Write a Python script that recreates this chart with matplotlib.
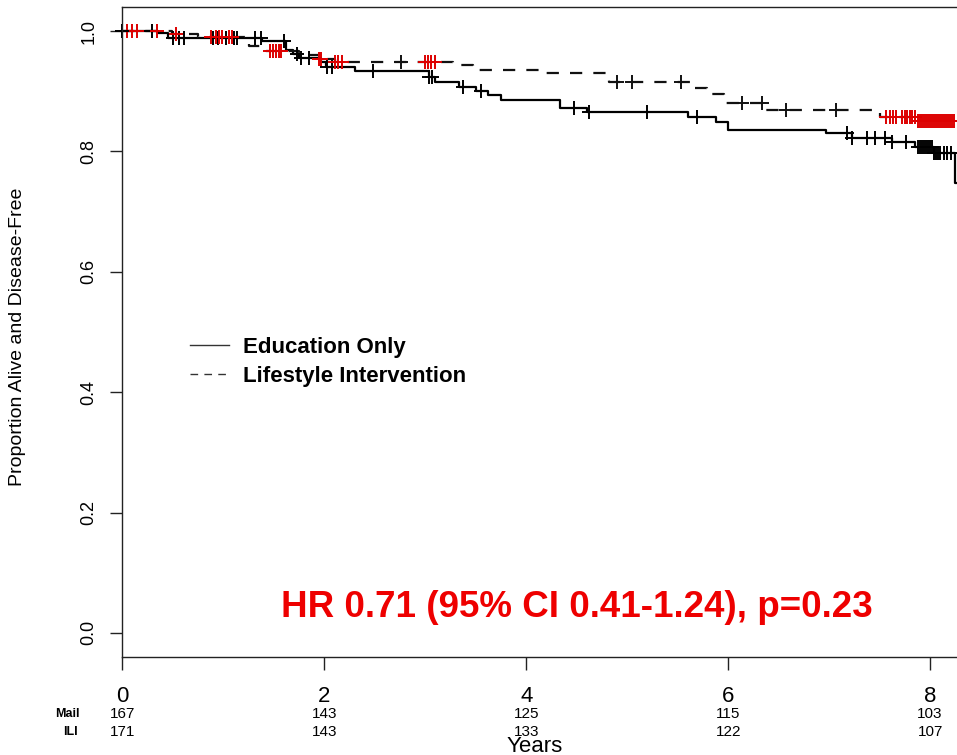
import numpy as np
import matplotlib.pyplot as plt
from matplotlib.lines import Line2D

plt.rcParams['font.family'] = ['Liberation Sans', 'DejaVu Sans']

## Kaplan-Meier step values (time in years, proportion after the step)
mail_times = [0.0, 0.35, 0.45, 1.38, 1.62, 1.69, 1.75, 1.97, 2.02, 2.30, 3.04, 3.10, 3.33, 3.50,
              3.62, 3.75, 4.33, 4.60, 5.60, 5.88, 6.00, 6.97, 7.23, 7.62, 7.85, 8.04, 8.25]
mail_surv = [1.0, 0.996, 0.989, 0.984, 0.968, 0.962, 0.956, 0.948, 0.941, 0.933, 0.924, 0.916, 0.907, 0.900,
             0.893, 0.885, 0.873, 0.866, 0.857, 0.849, 0.835, 0.830, 0.823, 0.816, 0.807, 0.798, 0.748]

ili_times = [0.0, 0.49, 0.75, 1.25, 1.42, 1.75, 1.95, 2.10, 3.27, 3.47, 4.16, 4.82, 5.65, 5.79,
             5.96, 6.36, 7.50, 7.86]
ili_surv = [1.0, 0.995, 0.990, 0.975, 0.967, 0.960, 0.953, 0.948, 0.943, 0.936, 0.931, 0.916, 0.905, 0.895,
            0.881, 0.869, 0.858, 0.850]

## censoring times
mail_cens = [0.0, 0.29, 0.50, 0.56, 0.61, 0.90, 0.95, 1.03, 1.10, 1.13, 1.31, 1.37, 1.60, 1.73, 1.77,
             1.85, 2.03, 2.08, 2.48, 3.04, 3.07, 3.37, 3.55, 4.47, 4.62, 5.20, 5.69, 7.18, 7.23, 7.37,
             7.45, 7.55, 7.62, 7.76, 7.88, 7.90, 7.92, 7.94, 7.96, 7.98, 8.00, 8.02, 8.04, 8.06, 8.08,
             8.10, 8.14, 8.17, 8.21]
ili_cens_red = [0.04, 0.09, 0.14, 0.34, 0.53, 0.88, 0.93, 0.96, 0.99, 1.05, 1.08, 1.46, 1.49, 1.52,
                1.55, 1.57, 1.95, 1.97, 2.10, 2.13, 2.17, 3.00, 3.03, 3.06, 3.10, 7.56, 7.60, 7.63, 7.66,
                7.72, 7.75, 7.77, 7.80, 7.82, 7.85, 7.88, 7.90, 7.92, 7.94, 7.96, 7.98, 8.00, 8.02, 8.04,
                8.06, 8.08, 8.10, 8.12, 8.14, 8.16, 8.18, 8.20, 8.22, 8.24]
ili_cens_black = [2.76, 4.90, 5.05, 5.53, 6.14, 6.33, 6.57, 7.07]

## numbers at risk
risk_years = [0, 2, 4, 6, 8]
mail_risk = [167, 143, 125, 115, 103]
ili_risk = [171, 143, 133, 122, 107]

x_end = 8.4


def surv_at(times, surv, t):
    idx = np.searchsorted(times, t, side='right') - 1
    return np.asarray(surv)[idx]


fig = plt.figure(figsize=(9.57, 7.55), dpi=100)
ax = fig.add_axes([122.5/957, 98/755, 848/957, 650/755])

ax.step(mail_times + [x_end], mail_surv + [mail_surv[-1]], where='post', color='black', lw=1.6)
ax.step(ili_times + [x_end], ili_surv + [ili_surv[-1]], where='post', color='#111111', lw=1.6,
        dashes=(5.5, 5))

ax.plot(mail_cens, surv_at(mail_times, mail_surv, mail_cens), ls='none', marker='+',
        ms=10, mew=1.4, color='black', clip_on=False)
ax.plot(ili_cens_black, surv_at(ili_times, ili_surv, ili_cens_black), ls='none', marker='+',
        ms=10, mew=1.4, color='#111111', clip_on=False)
ax.plot(ili_cens_red, surv_at(ili_times, ili_surv, ili_cens_red), ls='none', marker='+',
        ms=10, mew=1.4, color='#dd0000', clip_on=False)
ax.plot([0], [1.0], ls='none', marker='+', ms=10, mew=1.4, color='black', clip_on=False)

ax.set_xlim(0, x_end)
ax.set_ylim(-0.04, 1.04)
ax.spines['right'].set_visible(False)
for s in ['left', 'top', 'bottom']:
    ax.spines[s].set_linewidth(1.0)
    ax.spines[s].set_color('#222222')

ax.set_xticks(risk_years)
ax.set_xticklabels([str(v) for v in risk_years], fontsize=16)
ax.set_yticks([0.0, 0.2, 0.4, 0.6, 0.8, 1.0])
ax.set_yticklabels(['0.0', '0.2', '0.4', '0.6', '0.8', '1.0'], fontsize=13, rotation=90, va='center')
ax.tick_params(axis='x', length=9, width=1, pad=12, color='#222222')
ax.tick_params(axis='y', length=9, width=1, pad=9, color='#222222')

## numbers at risk below the axis
for yr, m, i in zip(risk_years, mail_risk, ili_risk):
    ax.annotate(str(m), xy=(yr, 41), xycoords=('data', 'figure pixels'), ha='center', va='center', fontsize=11)
    ax.annotate(str(i), xy=(yr, 23), xycoords=('data', 'figure pixels'), ha='center', va='center', fontsize=11)
fig.text(67/957, 41/755, 'Mail', ha='center', va='center', fontsize=9, fontweight='bold')
fig.text(70/957, 23/755, 'ILI', ha='center', va='center', fontsize=9, fontweight='bold')
fig.text(535/957, 9/755, 'Years', ha='center', va='center', fontsize=16)
fig.text(18/957, (755-337)/755, 'Proportion Alive and Disease-Free', rotation=90, ha='center', va='center',
         fontsize=14)

handles = [Line2D([], [], color='#333333', lw=1.0),
           Line2D([], [], color='#333333', lw=1.0, dashes=(5.5, 4.5))]
ax.legend(handles, ['Education Only', 'Lifestyle Intervention'], loc='upper left',
          bbox_to_anchor=(190/957, (755-337)/755), bbox_transform=fig.transFigure, frameon=False,
          borderpad=0, borderaxespad=0, handlelength=1.75, handletextpad=0.65, labelspacing=0.35,
          prop={'size': 16, 'weight': 'bold'})

ax.text(4.5, 0.042, 'HR 0.71 (95% CI 0.41-1.24), p=0.23', color='#ee0000', fontsize=26.5,
        fontweight='bold', ha='center', va='center')

fig.savefig('out.png', dpi=100)
